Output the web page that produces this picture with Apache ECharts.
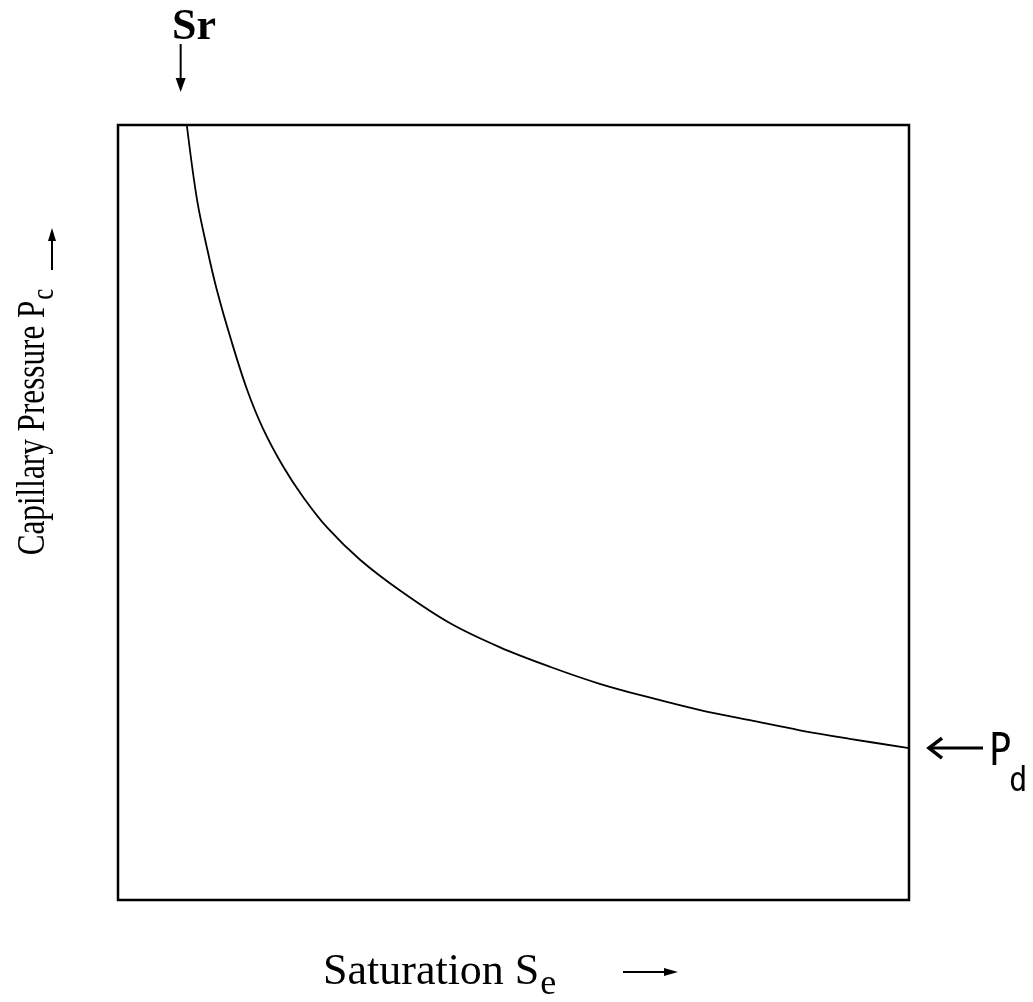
<!DOCTYPE html>
<html>
<head>
<meta charset="utf-8">
<script src="https://cdn.jsdelivr.net/npm/echarts@6/dist/echarts.min.js"></script>
<style>
  html, body { margin: 0; padding: 0; background: #fff; }
  #pcChart { width: 1033px; height: 1002px; }
</style>
</head>
<body>
<div id="pcChart"></div>
<script>
// saturation (normalised) and capillary pressure (normalised)
var seValues = [0.087, 0.100, 0.113, 0.125, 0.142, 0.163, 0.183, 0.209, 0.234, 0.264, 0.306,
                0.357, 0.420, 0.483, 0.546, 0.609, 0.673, 0.736, 0.799, 0.862, 0.925, 1.0];
var pcValues = [1.0, 0.903, 0.839, 0.787, 0.726, 0.659, 0.609, 0.559, 0.520, 0.481, 0.439,
                0.399, 0.357, 0.326, 0.301, 0.279, 0.261, 0.245, 0.232, 0.219, 0.208, 0.196];
var srValue = 0.083;   // residual saturation
var pdValue = 0.196;   // displacement pressure

var serif = '"Liberation Serif", "DejaVu Serif", serif';

var pcChart = echarts.init(document.getElementById('pcChart'), null, {renderer: 'canvas'});

var curveData = [];
seValues.forEach(function (s, i) {
    curveData.push([s, pcValues[i]]);
});

var option = {
    backgroundColor: '#fff',
    animation: false,
    grid: {
        left: 118,
        top: 125,
        width: 791,
        height: 775,
        show: true,
        borderColor: '#000',
        borderWidth: 2.5,
        backgroundColor: 'transparent'
    },
    xAxis: {
        type: 'value',
        min: 0,
        max: 1,
        axisLine: {show: false},
        axisTick: {show: false},
        axisLabel: {show: false},
        splitLine: {show: false}
    },
    yAxis: {
        type: 'value',
        min: 0,
        max: 1,
        axisLine: {show: false},
        axisTick: {show: false},
        axisLabel: {show: false},
        splitLine: {show: false}
    },
    series: [{
        type: 'line',
        data: curveData,
        smooth: 0.35,
        showSymbol: false,
        lineStyle: {color: '#000', width: 1.8}
    }]
};
pcChart.setOption(option);

function arrowHead(x, y, dir, len, half) {
    // dir: 'down' | 'up' | 'right', tip at (x, y)
    var pts;
    if (dir === 'down') pts = [[x, y], [x - half, y - len], [x + half, y - len]];
    if (dir === 'up') pts = [[x, y], [x - half, y + len], [x + half, y + len]];
    if (dir === 'right') pts = [[x, y], [x - len, y - half], [x - len, y + half]];
    return {type: 'polygon', shape: {points: pts}, style: {fill: '#000'}};
}

function drawAnnotations() {
    var srPx = pcChart.convertToPixel({gridIndex: 0}, [srValue, 1]);
    var pdPx = pcChart.convertToPixel({gridIndex: 0}, [1, pdValue]);
    var graphics = [];

    // Sr marker
    graphics.push({
        type: 'text', x: 172, y: 28,
        style: {text: 'Sr', font: 'bold 44px ' + serif, fill: '#000', verticalAlign: 'middle'}
    });
    graphics.push({type: 'line', shape: {x1: srPx[0] - 3, y1: 44, x2: srPx[0] - 3, y2: 80}, style: {stroke: '#000', lineWidth: 2}});
    graphics.push(arrowHead(srPx[0] - 3, 92, 'down', 14, 5));

    // Pd marker
    graphics.push({type: 'line', shape: {x1: 932, y1: pdPx[1], x2: 983, y2: pdPx[1]}, style: {stroke: '#000', lineWidth: 3}});
    graphics.push({type: 'polyline', shape: {points: [[942, pdPx[1] - 10], [929, pdPx[1]], [942, pdPx[1] + 10]]}, style: {stroke: '#000', lineWidth: 3.5, fill: null}});
    graphics.push({
        type: 'text', x: 989, y: pdPx[1] - 17, scaleX: 0.85,
        style: {text: 'P', font: '44px "DejaVu Sans Mono", monospace', fill: '#000', verticalAlign: 'top'}
    });
    graphics.push({
        type: 'text', x: 1009, y: pdPx[1] + 17, scaleX: 0.9,
        style: {text: 'd', font: '34px "DejaVu Sans Mono", monospace', fill: '#000', verticalAlign: 'top'}
    });

    // y axis title (condensed, reads bottom to top)
    graphics.push({
        type: 'text', x: 33, y: 422, rotation: Math.PI / 2, scaleX: 0.78,
        style: {
            text: '{a|Capillary Pressure P}{s|c}',
            fill: '#000',
            align: 'center',
            verticalAlign: 'middle',
            rich: {
                a: {font: '40px ' + serif},
                s: {font: '32px ' + serif, padding: [24, 0, 0, 1]}
            }
        }
    });
    graphics.push({type: 'line', shape: {x1: 52, y1: 270, x2: 52, y2: 240}, style: {stroke: '#000', lineWidth: 2}});
    graphics.push(arrowHead(52, 228, 'up', 13, 4));

    // x axis title
    graphics.push({
        type: 'text', x: 323, y: 972,
        style: {
            text: '{a|Saturation S}{s|e}',
            fill: '#000',
            verticalAlign: 'middle',
            rich: {
                a: {font: '44px ' + serif},
                s: {font: '36px ' + serif, padding: [26, 0, 0, 1]}
            }
        }
    });
    graphics.push({type: 'line', shape: {x1: 623, y1: 972, x2: 665, y2: 972}, style: {stroke: '#000', lineWidth: 2}});
    graphics.push(arrowHead(678, 972, 'right', 14, 4));

    pcChart.setOption({graphic: graphics});
}
drawAnnotations();
</script>
</body>
</html>
